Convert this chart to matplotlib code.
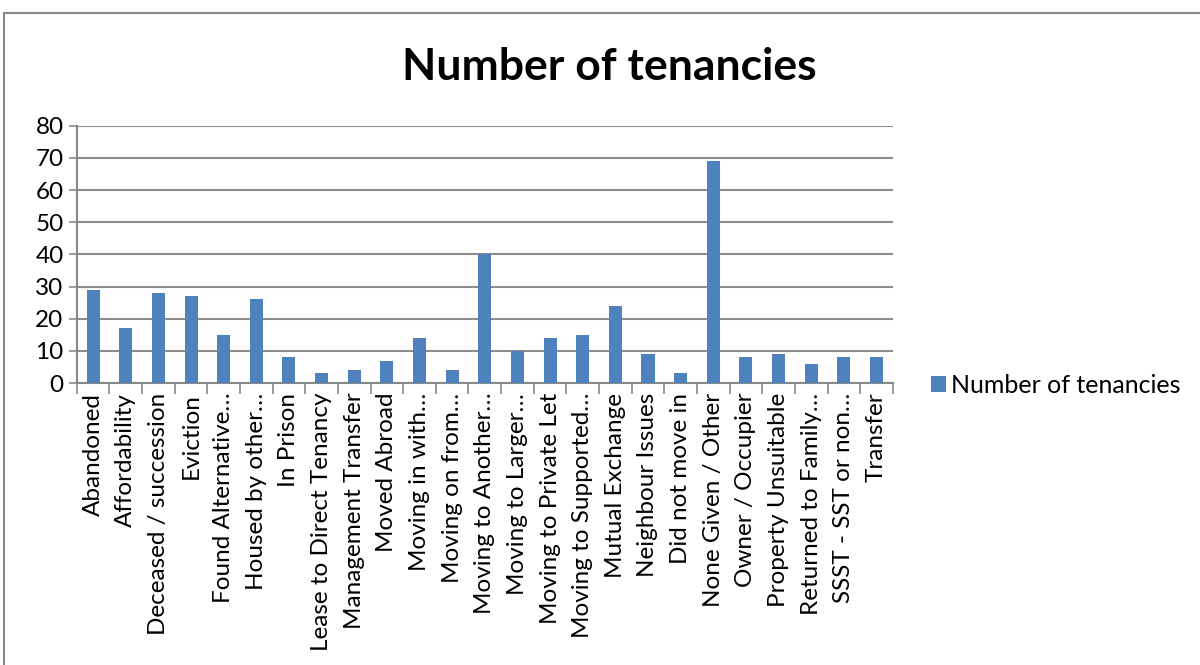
import numpy as np
import matplotlib.pyplot as plt
from matplotlib.patches import Rectangle

categories = ["Abandoned", "Affordability", "Deceased / succession", "Eviction",
              "Found Alternative\u2026", "Housed by other\u2026", "In Prison",
              "Lease to Direct Tenancy", "Management Transfer", "Moved Abroad",
              "Moving in with\u2026", "Moving on from\u2026", "Moving to Another\u2026",
              "Moving to Larger\u2026", "Moving to Private Let", "Moving to Supported\u2026",
              "Mutual Exchange", "Neighbour Issues", "Did not move in",
              "None Given / Other", "Owner / Occupier", "Property Unsuitable",
              "Returned to Family\u2026", "SSST - SST or non\u2026", "Transfer"]
tenancies = [29, 17, 28, 27, 15, 26, 8, 3, 4, 7, 14, 4, 40, 10, 14, 15, 24, 9, 3,
             69, 8, 9, 6, 8, 8]

plt.rcParams['font.family'] = ['Lato', 'DejaVu Sans']

fig = plt.figure(figsize=(12, 6.65), dpi=100)
ax = fig.add_axes([0.064, 0.424, 0.680, 0.387])

x = np.arange(len(categories))
ax.bar(x, tenancies, width=0.4, color='#4F81BD', label='Number of tenancies', zorder=3)

ax.set_xlim(-0.5, len(categories) - 0.5)
ax.set_ylim(0, 80)
ax.set_yticks(range(0, 81, 10))
ax.tick_params(axis='y', labelsize=17.5, length=6, color='#888888', width=1.2)
ax.grid(axis='y', color='#8c8c8c', linewidth=1.5, zorder=0)

ax.set_xticks(x)
ax.set_xticklabels(categories, rotation=90, fontsize=17.5, family='Lato')
ax.set_xticks(np.arange(-0.5, len(categories)), minor=True)
ax.tick_params(axis='x', which='major', length=0, pad=7)
ax.tick_params(axis='x', which='minor', length=8, color='#888888', width=1.2)

for s in ['top', 'right']:
    ax.spines[s].set_visible(False)
for s in ['left', 'bottom']:
    ax.spines[s].set_color('#888888')
    ax.spines[s].set_linewidth(1.5)

fig.text(0.508, 0.899, 'Number of tenancies', ha='center', va='center',
         fontsize=32, fontweight='bold')

ax.legend(loc='center left', bbox_to_anchor=(1.035, -0.01), frameon=False,
          fontsize=18, handlelength=0.6, handleheight=0.6, handletextpad=0.2,
          borderaxespad=0)

fig.patches.append(Rectangle((0.003, -0.1), 1.2, 1.08, transform=fig.transFigure,
                             fill=False, edgecolor='#888888', linewidth=1.5))

fig.savefig('out.png', dpi=100)
